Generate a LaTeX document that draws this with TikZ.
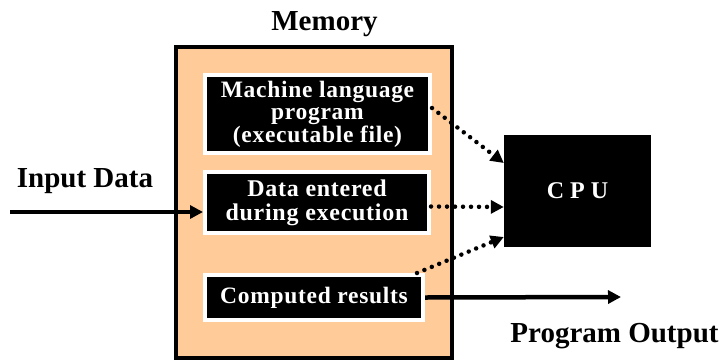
\documentclass[tikz,border=0pt]{standalone}
\usepackage{fontspec}
\setmainfont{Liberation Serif}
\usepackage{tikz}
\usetikzlibrary{arrows.meta}

\definecolor{memfill}{RGB}{255,204,153}

\tikzset{
  unit/.style={shape=rectangle, fill=black, draw=white, line width=4pt,
    text=white, align=center, inner sep=0pt,
    font=\fontsize{23.5}{22.5}\selectfont\bfseries\addfontfeature{LetterSpace=3}},
  label/.style={anchor=base, font=\fontsize{29}{31}\selectfont\bfseries},
  flow/.style={line width=4.5pt, -{Triangle[length=13pt,width=13pt]}},
  fetch/.style={line width=4.5pt, line cap=round, dash pattern=on 0pt off 8pt,
    -{Triangle[length=13pt,width=13pt]}}
}

\begin{document}
\begin{tikzpicture}[x=1pt, y=-1pt]
            \useasboundingbox (0, 0) rectangle (725, 362);

            \node[shape=rectangle, fill=memfill, draw=black, line width=3.5pt,
              minimum width=276pt, minimum height=311pt] (mem) at (314, 202.5) {};
            \node[label] (memlabel) at (324.5, 30) {Memory};

            \node[unit, minimum width=225pt, minimum height=78pt] (prog) at (317.5, 114)
              {Machine language\\program\\(executable file)};
            \node[unit, minimum width=224pt, minimum height=61pt,
              font=\fontsize{24}{24}\selectfont\bfseries\addfontfeature{LetterSpace=3}] (data) at (317, 202.5)
              {Data entered\\during execution};
            \node[unit, minimum width=218pt, minimum height=45pt] (res) at (314, 297.5)
              {Computed results};

            \node[shape=rectangle, fill=black, minimum width=147pt, minimum height=112pt,
              text=white, font=\fontsize{24}{24}\selectfont\bfseries] (cpu) at (577.5, 191) {C P U};

            \node[label] (inlabel) at (85, 187) {Input Data};
            \node[label] (outlabel) at (614.5, 342) {Program Output};

            \coordinate (in) at (10, 212);
            \coordinate (out) at (621, 297);

            \draw[flow] (in) -- (in -| data.west);
            \draw[flow] (res.east) -- (out);

            \draw[fetch] ([yshift=6pt]prog.east) -- ([yshift=28pt]cpu.west);
            \draw[fetch] ([yshift=-4pt]data.east) -- ([yshift=-16pt]cpu.west);
            \draw[fetch] ([xshift=-8pt]res.north east) -- ([yshift=-46pt]cpu.west);
        \end{tikzpicture}
\end{document}
